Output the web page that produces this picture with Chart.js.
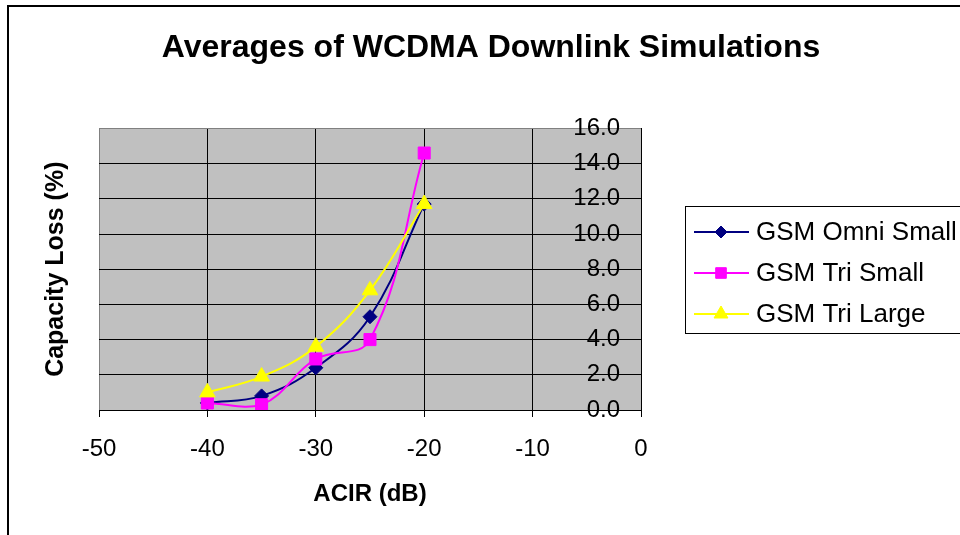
<!DOCTYPE html>
<html>
<head>
<meta charset="utf-8">
<title>Averages of WCDMA Downlink Simulations</title>
<script src="https://cdn.jsdelivr.net/npm/chart.js@4.4.0/dist/chart.umd.min.js"></script>
<style>
  html, body { margin: 0; padding: 0; background: #fff; }
  #wrap { position: relative; width: 960px; height: 535px; overflow: hidden; }
  #frame { position: absolute; left: 7px; top: 5px; right: -10px; bottom: -10px; border-left: 2px solid #000; border-top: 2px solid #000; }
  #chart { position: absolute; left: 0; top: 0; }
</style>
</head>
<body>
<div id="wrap">
  <div id="frame"></div>
  <canvas id="chart" width="960" height="535"></canvas>
</div>
<script>
// ACIR steps (dB) and averaged capacity loss (%) per GSM configuration
var acir = [-40, -35, -30, -25, -20];
var omniSmall = [0.4, 0.8, 2.4, 5.3, 11.7];
var triSmall = [0.4, 0.3, 2.9, 4.0, 14.6];
var triLarge = [1.0, 1.9, 3.6, 6.8, 11.7];

var xMin = -50, xMax = 0, xStep = 10;
var yMin = 0, yMax = 16, yStep = 2;

var FONT = '"Liberation Sans", Arial, sans-serif';

function toPoints(values) {
    return acir.map(function (x, i) {
        return { x: x, y: values[i] };
    });
}

// grey plot area behind the grid
var plotBackground = {
    id: 'plotBackground',
    beforeDraw: function (chart) {
        var a = chart.chartArea;
        chart.ctx.save();
        chart.ctx.fillStyle = '#c0c0c0';
        chart.ctx.fillRect(a.left, a.top, a.right - a.left, a.bottom - a.top);
        chart.ctx.restore();
    }
};

// boxed legend to the right of the plot
var sideLegend = {
    id: 'sideLegend',
    afterDraw: function (chart) {
        var ctx = chart.ctx;
        var left = 685, top = 206, rowH = 41;
        ctx.save();
        ctx.strokeStyle = '#000';
        ctx.lineWidth = 1;
        ctx.strokeRect(left + 0.5, top + 0.5, 320, 127);
        chart.data.datasets.forEach(function (ds, i) {
            var y = top + 26 + i * rowH;
            ctx.strokeStyle = ds.borderColor;
            ctx.lineWidth = 2;
            ctx.beginPath();
            ctx.moveTo(left + 9, y);
            ctx.lineTo(left + 64, y);
            ctx.stroke();
            ctx.fillStyle = ds.pointBackgroundColor;
            ctx.strokeStyle = ds.pointBorderColor;
            ctx.lineWidth = 1;
            Chart.helpers.drawPoint(ctx, {
                pointStyle: ds.pointStyle,
                radius: ds.legendRadius,
                borderWidth: 1,
                rotation: 0
            }, left + 36, y);
            ctx.fillStyle = '#000';
            ctx.font = '26px ' + FONT;
            ctx.textBaseline = 'middle';
            ctx.textAlign = 'left';
            ctx.fillText(ds.label, left + 71, y + 1);
        });
        ctx.restore();
    }
};

new Chart('chart', {
    type: 'scatter',
    data: {
        datasets: [{
            label: 'GSM Omni Small',
            data: toPoints(omniSmall),
            borderColor: '#000080',
            pointBackgroundColor: '#000080',
            pointBorderColor: '#000080',
            pointStyle: 'rectRot',
            pointRadius: 7,
            legendRadius: 6,
            order: 3
        }, {
            label: 'GSM Tri Small',
            data: toPoints(triSmall),
            borderColor: '#ff00ff',
            pointBackgroundColor: '#ff00ff',
            pointBorderColor: '#ff00ff',
            pointStyle: 'rect',
            pointRadius: 8.5,
            legendRadius: 7.5,
            order: 2
        }, {
            label: 'GSM Tri Large',
            data: toPoints(triLarge),
            borderColor: '#ffff00',
            pointBackgroundColor: '#ffff00',
            pointBorderColor: '#ffff00',
            pointStyle: 'triangle',
            pointRadius: 9,
            legendRadius: 8,
            order: 1
        }].map(function (ds) {
            ds.showLine = true;
            ds.borderWidth = 2;
            ds.tension = 0.4;
            ds.pointBorderWidth = 1;
            ds.yAxisID = 'y';
            return ds;
        })
    },
    options: {
        responsive: false,
        animation: false,
        events: [],
        layout: { padding: { left: 22, right: 0, top: 0, bottom: 0 } },
        plugins: {
            legend: { display: false },
            tooltip: { enabled: false },
            title: {
                display: true,
                text: 'Averages of WCDMA Downlink Simulations',
                color: '#000',
                font: { family: FONT, size: 32, weight: 'bold' },
                padding: { top: 29, bottom: 61 }
            }
        },
        scales: {
            x: {
                type: 'linear',
                position: 'bottom',
                min: xMin,
                max: xMax,
                afterFit: function (s) { s.height = 125; },
                ticks: {
                    stepSize: xStep,
                    color: '#000',
                    padding: 18,
                    font: { family: FONT, size: 24 }
                },
                grid: {
                    color: function (c) { return c.tick && c.tick.value === xMin ? '#808080' : '#000'; },
                    tickColor: '#000',
                    tickLength: 7,
                    lineWidth: 1
                },
                border: { color: '#000', width: 1 },
                title: {
                    display: true,
                    text: 'ACIR (dB)',
                    color: '#000',
                    font: { family: FONT, size: 24, weight: 'bold' },
                    padding: { top: 0, bottom: 26 }
                }
            },
            y: {
                type: 'linear',
                position: 'right',
                min: yMin,
                max: yMax,
                afterFit: function (s) { s.width = 319; },
                ticks: {
                    stepSize: yStep,
                    mirror: true,
                    padding: -21,
                    color: '#000',
                    font: { family: FONT, size: 24 },
                    callback: function (v) { return v.toFixed(1); }
                },
                grid: {
                    color: function (c) { return c.tick && c.tick.value === yMax ? '#808080' : '#000'; },
                    drawTicks: false,
                    lineWidth: 1
                },
                border: { color: '#000', width: 1 }
            },
            yTitle: {
                type: 'linear',
                position: 'left',
                afterFit: function (s) { s.width = 77; },
                ticks: { display: false },
                grid: { display: false },
                border: { display: false },
                title: {
                    display: true,
                    text: 'Capacity Loss (%)',
                    color: '#000',
                    font: { family: FONT, size: 25, weight: 'bold' },
                    padding: { top: 19, bottom: 0 }
                }
            }
        }
    },
    plugins: [plotBackground, sideLegend]
});
</script>
</body>
</html>
